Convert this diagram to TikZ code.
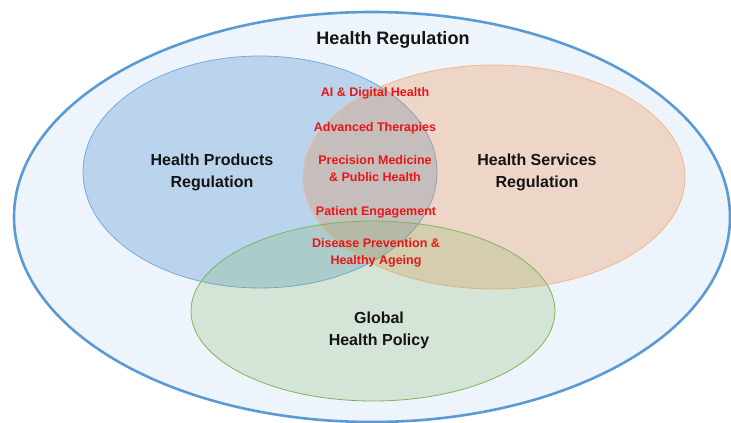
\documentclass[tikz,border=0pt]{standalone}
\usepackage{fontspec}
\setmainfont{Liberation Sans}
\usepackage{tikz}
\usetikzlibrary{positioning,shapes.geometric}

\definecolor{ringblue}{RGB}{91,155,213}
\definecolor{ringfill}{RGB}{238,244,251}
\definecolor{prodblue}{RGB}{91,155,213}
\definecolor{servorange}{RGB}{237,125,49}
\definecolor{policygreen}{RGB}{112,173,71}
\definecolor{themered}{RGB}{232,22,22}

\begin{document}
\begin{tikzpicture}[
  x=1pt, y=-1pt,
  zone/.style={ellipse, draw, inner sep=0pt, line width=0.8pt},
  area/.style={align=center, inner sep=0pt, text=black!92,
    font=\fontsize{16}{22}\selectfont\bfseries},
  theme/.style={align=center, inner sep=0pt, text=themered,
    font=\fontsize{12.5}{17}\selectfont\bfseries}
]
\useasboundingbox (0,0) rectangle (731,423);

% outer field
\node[zone, draw=ringblue, line width=2.6pt, fill=ringfill,
  minimum width=716pt, minimum height=410pt] (field) at (372,217) {};

% the three overlapping domains
\node[zone, draw=prodblue!85!white, fill=prodblue, fill opacity=0.35,
  minimum width=354pt, minimum height=232pt] (products) at (260,172) {};
\node[zone, draw=servorange!55!white, fill=servorange, fill opacity=0.25,
  minimum width=382pt, minimum height=224pt] (services) at (494,177) {};
\node[zone, draw=policygreen!90!white, fill=policygreen, fill opacity=0.2,
  minimum width=364pt, minimum height=180pt] (policy) at (373,311) {};

% domain names
\node[area, font=\fontsize{18}{22}\selectfont\bfseries] (fieldname) at (393,40) {Health Regulation};
\node[area] (productsname) at (212,172) {Health Products\\Regulation};
\node[area] (servicesname) at (537,172) {Health Services\\Regulation};
\node[area] (policyname) at (379,330) {Global\\Health Policy};

% shared themes
\node[theme] (ai) at (375,93) {AI \& Digital Health};
\node[theme] (therapies) at (375,128) {Advanced Therapies};
\node[theme] (precision) at (375,169) {Precision Medicine\\\& Public Health};
\node[theme] (patient) at (376,212) {Patient Engagement};
\node[theme] (prevention) at (376,253) {Disease Prevention \&\\Healthy Ageing};
\end{tikzpicture}
\end{document}
